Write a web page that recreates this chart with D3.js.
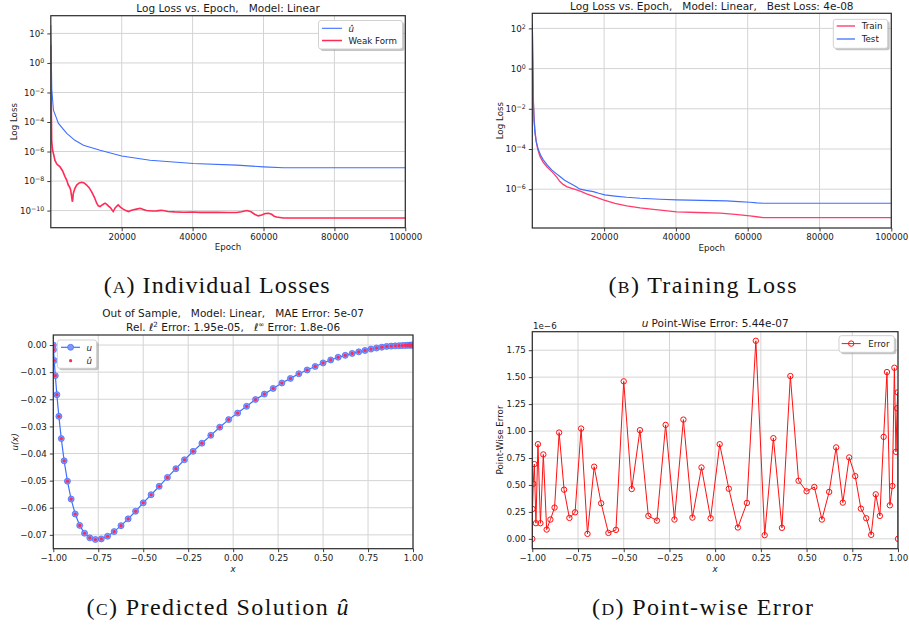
<!DOCTYPE html>
<html>
<head>
<meta charset="utf-8">
<script src="https://cdn.jsdelivr.net/npm/d3@7"></script>
<style>
body{margin:0;background:#fff;}
svg text{white-space:pre;}
</style>
</head>
<body>
<svg id="fig" width="909" height="626"></svg>
<script>
// ---- (A) individual losses, log10 values
const epochUHat = [0, 280, 750, 2160, 4500, 6800, 9200, 13900, 20000, 28000, 40200, 52400, 60000, 65600, 100000];
const logUHat   = [2.57, -1.8, -3.2, -4.1, -4.77, -5.24, -5.58, -5.91, -6.3, -6.59, -6.81, -6.92, -7.04, -7.1, -7.1];

const epochWeak = [0, 120, 250, 500, 800, 1180, 1700, 2600, 3300, 4000, 4500, 4940, 5300, 5600, 5850, 6070, 6200, 6350, 6800, 7300,
  8000, 8700, 9400, 10100, 10800, 11500, 12300, 12950, 13400, 13900, 14500, 15300, 15800, 16200, 16800, 17600, 18200, 19000, 19700, 20450,
  21200, 21900, 22600, 23300, 24200, 25200, 26100, 27000, 28500, 29900, 31000, 31700, 33000, 35000, 37400, 40000, 42000, 44900, 47000, 50000,
  52400, 53800, 55300, 56500, 57500, 58500, 59500, 60500, 61400, 62300, 63000, 63700, 64600, 65600, 100000];
const logWeak = [1.2, -2.5, -5.3, -5.9, -6.2, -6.6, -6.85, -7.04, -7.3, -7.7, -7.95, -8.27, -8.4, -8.6, -9.0, -9.4, -9.25, -8.83, -8.5, -8.27,
  -8.13, -8.08, -8.13, -8.27, -8.45, -8.72, -9.1, -9.5, -9.68, -9.73, -9.62, -9.5, -9.58, -9.68, -9.8, -10.07, -9.8, -9.62, -9.78, -9.9,
  -10.0, -10.07, -10.0, -9.95, -9.9, -9.84, -9.92, -10.0, -10.03, -10.02, -9.99, -10.0, -10.06, -10.09, -10.11, -10.1, -10.12, -10.11, -10.12, -10.13,
  -10.13, -10.08, -10.0, -10.08, -10.25, -10.36, -10.3, -10.2, -10.18, -10.25, -10.38, -10.44, -10.47, -10.5, -10.5];

// ---- (B) training loss
const epochTest = [0, 150, 280, 500, 740, 1100, 1670, 2300, 3060, 4200, 5400, 6500, 7700, 9000, 10500, 12000, 13300, 15000, 17000, 18500,
  20200, 23000, 26300, 30000, 35600, 40200, 47000, 54100, 57500, 60600, 62500, 64300, 100000];
const logTest = [2.25, 0.5, -1.55, -2.6, -3.2, -3.65, -4.03, -4.3, -4.54, -4.8, -5.04, -5.2, -5.37, -5.55, -5.7, -5.85, -6.0, -6.06, -6.12, -6.2,
  -6.28, -6.34, -6.4, -6.45, -6.5, -6.53, -6.56, -6.58, -6.62, -6.65, -6.68, -6.7, -6.7];
const epochTrain = [0, 150, 300, 460, 700, 1020, 1500, 2140, 3000, 4000, 5000, 5850, 6800, 7700, 8600, 9560, 11000, 12350, 13700, 15100,
  17500, 19800, 23000, 26300, 30000, 33700, 37000, 40200, 46000, 52300, 56500, 60600, 62500, 64300, 100000];
const logTrain = [2.2, 0.0, -1.6, -2.38, -3.0, -3.54, -4.0, -4.37, -4.65, -4.87, -5.05, -5.2, -5.4, -5.62, -5.76, -5.87, -5.96, -6.03, -6.12, -6.23,
  -6.38, -6.53, -6.7, -6.83, -6.93, -7.0, -7.07, -7.13, -7.16, -7.19, -7.25, -7.33, -7.37, -7.41, -7.41];

// ---- (C)/(D) sample nodes, solution and point-wise error (x1e-6)
const xNodes = [-1.0, -0.998757, -0.995031, -0.988831, -0.980172, -0.969077, -0.955573, -0.939693, -0.921476, -0.900969,
  -0.878222, -0.853291, -0.826239, -0.797133, -0.766044, -0.733052, -0.698237, -0.661686, -0.62349, -0.583744,
  -0.542546, -0.5, -0.456211, -0.411287, -0.365341, -0.318487, -0.27084, -0.222521, -0.173648, -0.124344,
  -0.07473, -0.024931, 0.024931, 0.07473, 0.124344, 0.173648, 0.222521, 0.27084, 0.318487, 0.365341,
  0.411287, 0.456211, 0.5, 0.542546, 0.583744, 0.62349, 0.661686, 0.698237, 0.733052, 0.766044,
  0.797133, 0.826239, 0.853291, 0.878222, 0.900969, 0.921476, 0.939693, 0.955573, 0.969077, 0.980172,
  0.988831, 0.995031, 0.998757, 1.0];
const uVals = [0, -0.0017, -0.0057, -0.0113, -0.0183, -0.0263, -0.0345, -0.0427, -0.0502, -0.0568,
  -0.0623, -0.0665, -0.0694, -0.0711, -0.0717, -0.0715, -0.0705, -0.0688, -0.0666, -0.0641,
  -0.0613, -0.0582, -0.0552, -0.0521, -0.0488, -0.0456, -0.0423, -0.0392, -0.0362, -0.0333,
  -0.0303, -0.0275, -0.0251, -0.0226, -0.0201, -0.0181, -0.016, -0.014, -0.0123, -0.0106,
  -0.0092, -0.0079, -0.0066, -0.0055, -0.0045, -0.0038, -0.0031, -0.0025, -0.002, -0.0015,
  -0.0011, -0.0008, -0.0005, -0.0004, -0.0003, -0.00025, -0.0002, -0.00015, -0.0001, -0.00007,
  -0.00004, -0.00002, -0.00001, 0];
const uHatVals = uVals; // prediction sits on top of the exact values at this scale
const errVals = [0, 0.277, 0.511, 0.693, 0.145, 0.878, 0.145, 0.783, 0.086, 0.179,
  0.29, 0.986, 0.456, 0.194, 0.246, 1.023, 0.046, 0.669, 0.33, 0.055,
  0.083, 1.461, 0.462, 1.008, 0.213, 0.169, 1.057, 0.179, 1.106, 0.197,
  0.662, 0.191, 0.878, 0.465, 0.105, 0.333, 1.837, 0.034, 0.934, 0.102,
  1.51, 0.539, 0.441, 0.481, 0.179, 0.435, 0.848, 0.336, 0.755, 0.582,
  0.28, 0.191, 0.037, 0.413, 0.213, 0.946, 1.547, 0.311, 0.49, 1.587,
  0.807, 1.211, 1.359, 0];

const epochTicks = [20000, 40000, 60000, 80000, 100000];
const logTicksA = [1e2, 1, 1e-2, 1e-4, 1e-6, 1e-8, 1e-10];
const logTicksB = [1e2, 1, 1e-2, 1e-4, 1e-6];
const xTicksCD = [-1, -0.75, -0.5, -0.25, 0, 0.25, 0.5, 0.75, 1];
const uTicks = [0, -0.01, -0.02, -0.03, -0.04, -0.05, -0.06, -0.07];
const errTicks = [0, 0.25, 0.5, 0.75, 1, 1.25, 1.5, 1.75];

const svg = d3.select("#fig");
const FONT = "DejaVu Sans, sans-serif";
const FS = 8.7, TFS = 10.5;
const gridColor = "#d4d4d4", spineColor = "#2a2a2a";
const blue = "#3f6fff", red = "#ff2a55";

// boxes of the four axes
const boxA = {l:50.8, r:405.3, t:15.7, b:227.7};
const boxB = {l:532.3, r:891.3, t:13.3, b:228};
const boxC = {l:53.3, r:413, t:335, b:548.7};
const boxD = {l:532.3, r:898, t:331.7, b:548.7};

const xA = d3.scaleLinear().domain([0, 100000]).range([boxA.l, boxA.r]);
const yA = d3.scaleLog().domain([Math.pow(10,-11.16), Math.pow(10,3.2)]).range([boxA.b, boxA.t]);
const xB = d3.scaleLinear().domain([0, 100000]).range([boxB.l, boxB.r]);
const yB = d3.scaleLog().domain([Math.pow(10,-7.93), Math.pow(10,2.75)]).range([boxB.b, boxB.t]);
const xC = d3.scaleLinear().domain([-1, 1]).range([boxC.l, boxC.r]);
const yC = d3.scaleLinear().domain([-0.0751, 0.0037]).range([boxC.b, boxC.t]);
const xD = d3.scaleLinear().domain([-1, 1]).range([boxD.l, boxD.r]);
const yD = d3.scaleLinear().domain([-0.0915, 1.9215]).range([boxD.b, boxD.t]);

const defs = svg.append("defs");

function gridAndClip(id, box, x, y, xt, yt){
    defs.append("clipPath").attr("id", id).append("rect")
        .attr("x", box.l).attr("y", box.t).attr("width", box.r-box.l).attr("height", box.b-box.t);
    const g = svg.append("g").attr("stroke", gridColor).attr("stroke-width", 1);
    g.selectAll(".gx").data(xt).join("line").attr("class","gx")
        .attr("x1", d=>x(d)).attr("x2", d=>x(d)).attr("y1", box.t).attr("y2", box.b);
    g.selectAll(".gy").data(yt).join("line").attr("class","gy")
        .attr("x1", box.l).attr("x2", box.r).attr("y1", d=>y(d)).attr("y2", d=>y(d));
    return svg.append("g").attr("clip-path", `url(#${id})`);
}

function supLabels(g){
    g.selectAll(".tick text").each(function(d){
        const e = Math.round(Math.log10(d));
        const t = d3.select(this).text("10");
        t.append("tspan").attr("dy", "-0.5em").attr("font-size", 6.3).text(e < 0 ? "\u2212" + (-e) : String(e));
    });
}

function axes(box, x, y, xt, yt, xf, yf, logY){
    const gx = svg.append("g").attr("transform", `translate(0,${box.b})`)
        .call(d3.axisBottom(x).tickValues(xt).tickSize(3.5).tickPadding(2.5).tickFormat(xf));
    const gy = svg.append("g").attr("transform", `translate(${box.l},0)`)
        .call(d3.axisLeft(y).tickValues(yt).tickSize(3.5).tickPadding(3).tickFormat(logY ? "" : yf));
    [gx, gy].forEach(g => {
        g.attr("font-size", FS).attr("font-family", FONT);
        g.select(".domain").remove();
        g.selectAll(".tick line").attr("stroke", spineColor).attr("stroke-width", 0.9);
        g.selectAll(".tick text").attr("fill", "#1a1a1a");
    });
    if (logY) supLabels(gy);
    svg.append("rect").attr("x", box.l).attr("y", box.t)
        .attr("width", box.r-box.l).attr("height", box.b-box.t)
        .attr("fill", "none").attr("stroke", spineColor).attr("stroke-width", 1.2);
}

function label(x, y, txt, opt){
    opt = opt || {};
    const t = svg.append("text").attr("x", x).attr("y", y)
        .attr("text-anchor", opt.anchor || "middle")
        .attr("font-family", FONT).attr("font-size", opt.size || FS).attr("fill", "#1a1a1a");
    if (opt.rotate) t.attr("transform", `rotate(-90,${x},${y})`);
    if (opt.italic) t.attr("font-style", "italic");
    t.text(txt);
    return t;
}

function legendBox(x0, y0, w, h){
    svg.append("rect").attr("x", x0+2).attr("y", y0+2).attr("width", w).attr("height", h)
        .attr("rx", 2.5).attr("fill", "#8c8c8c").attr("opacity", 0.5);
    svg.append("rect").attr("x", x0).attr("y", y0).attr("width", w).attr("height", h)
        .attr("rx", 2.5).attr("fill", "#fff").attr("stroke", "#cccccc").attr("stroke-width", 0.9);
}

const lineOf = (x, y) => d3.line().x(d => x(d[0])).y(d => y(d[1]));
const pow10 = arr => arr.map(v => Math.pow(10, v));

// ================= (A)
{
    const plot = gridAndClip("clipA", boxA, xA, yA, epochTicks, logTicksA);
    plot.append("path").datum(d3.zip(epochUHat, pow10(logUHat)))
        .attr("d", lineOf(xA, yA)).attr("fill", "none").attr("stroke", blue).attr("stroke-width", 1.1);
    plot.append("path").datum(d3.zip(epochWeak, pow10(logWeak)))
        .attr("d", lineOf(xA, yA)).attr("fill", "none").attr("stroke", red).attr("stroke-width", 1.6);
    axes(boxA, xA, yA, epochTicks, logTicksA, d3.format("d"), null, true);
    label((boxA.l+boxA.r)/2, 12.3, "Log Loss vs. Epoch,   Model: Linear", {size: TFS});
    label((boxA.l+boxA.r)/2, 250, "Epoch");
    label(17.5, (boxA.t+boxA.b)/2, "Log Loss", {rotate: true});
    legendBox(318.5, 20.5, 84, 28.5);
    svg.append("line").attr("x1", 322).attr("x2", 342).attr("y1", 28.3).attr("y2", 28.3).attr("stroke", blue).attr("stroke-width", 1.1);
    svg.append("line").attr("x1", 322).attr("x2", 342).attr("y1", 40.5).attr("y2", 40.5).attr("stroke", red).attr("stroke-width", 1.5);
    label(348.5, 31.5, "\u00fb", {anchor: "start", italic: true});
    label(348.5, 43.6, "Weak Form", {anchor: "start"});
}

// ================= (B)
{
    const plot = gridAndClip("clipB", boxB, xB, yB, epochTicks, logTicksB);
    plot.append("path").datum(d3.zip(epochTrain, pow10(logTrain)))
        .attr("d", lineOf(xB, yB)).attr("fill", "none").attr("stroke", "#ff3d6b").attr("stroke-width", 1.3);
    plot.append("path").datum(d3.zip(epochTest, pow10(logTest)))
        .attr("d", lineOf(xB, yB)).attr("fill", "none").attr("stroke", blue).attr("stroke-width", 1.2);
    axes(boxB, xB, yB, epochTicks, logTicksB, d3.format("d"), null, true);
    label((boxB.l+boxB.r)/2, 9.8, "Log Loss vs. Epoch,   Model: Linear,   Best Loss: 4e-08", {size: TFS});
    label((boxB.l+boxB.r)/2, 250.5, "Epoch");
    label(503, (boxB.t+boxB.b)/2, "Log Loss", {rotate: true});
    legendBox(833.3, 19.3, 54.4, 29);
    svg.append("line").attr("x1", 836.7).attr("x2", 855).attr("y1", 26).attr("y2", 26).attr("stroke", "#ff4d78").attr("stroke-width", 1.5);
    svg.append("line").attr("x1", 836.7).attr("x2", 855).attr("y1", 39).attr("y2", 39).attr("stroke", "#86a2ff").attr("stroke-width", 2);
    label(861.7, 29.2, "Train", {anchor: "start"});
    label(861.7, 42.2, "Test", {anchor: "start"});
}

// ================= (C)
{
    const plot = gridAndClip("clipC", boxC, xC, yC, xTicksCD, uTicks);
    const pts = d3.zip(xNodes, uVals);
    plot.append("path").datum(pts).attr("d", lineOf(xC, yC))
        .attr("fill", "none").attr("stroke", blue).attr("stroke-width", 1.2);
    plot.selectAll(".mk").data(pts).join("circle").attr("class", "mk")
        .attr("cx", d => xC(d[0])).attr("cy", d => yC(d[1])).attr("r", 3)
        .attr("fill", "#7d98ff").attr("stroke", "#4a74ff").attr("stroke-width", 0.8);
    plot.selectAll(".dt").data(d3.zip(xNodes, uHatVals)).join("circle").attr("class", "dt")
        .attr("cx", d => xC(d[0])).attr("cy", d => yC(d[1])).attr("r", 1.6).attr("fill", red);
    axes(boxC, xC, yC, xTicksCD, uTicks, d3.format(".2f"), d3.format(".2f"), false);
    const cx = (boxC.l+boxC.r)/2;
    label(cx, 317.3, "Out of Sample,   Model: Linear,   MAE Error: 5e-07", {size: TFS});
    const t2 = label(cx, 330.8, "", {size: TFS});
    t2.append("tspan").text("Rel. ");
    t2.append("tspan").attr("font-style", "italic").text("\u2113");
    t2.append("tspan").attr("dy", -4).attr("font-size", 7.2).text("2");
    t2.append("tspan").attr("dy", 4).text(" Error: 1.95e-05,   ");
    t2.append("tspan").attr("font-style", "italic").text("\u2113");
    t2.append("tspan").attr("dy", -4).attr("font-size", 7.2).text("\u221e");
    t2.append("tspan").attr("dy", 4).text(" Error: 1.8e-06");
    label(cx, 571.5, "x", {italic: true});
    label(18, (boxC.t+boxC.b)/2, "u(x)", {rotate: true, italic: true});
    legendBox(57.3, 340, 39.4, 28.3);
    svg.append("line").attr("x1", 61).attr("x2", 80).attr("y1", 347.3).attr("y2", 347.3).attr("stroke", blue).attr("stroke-width", 1.2);
    svg.append("circle").attr("cx", 70.6).attr("cy", 347.3).attr("r", 3).attr("fill", "#7d98ff").attr("stroke", "#4a74ff").attr("stroke-width", 0.8);
    svg.append("circle").attr("cx", 70.6).attr("cy", 360.7).attr("r", 1.6).attr("fill", red);
    label(86.5, 350.5, "u", {anchor: "start", italic: true});
    label(86.5, 364, "\u00fb", {anchor: "start", italic: true});
}

// ================= (D)
{
    const plot = gridAndClip("clipD", boxD, xD, yD, xTicksCD, errTicks);
    const pts = d3.zip(xNodes, errVals);
    plot.append("path").datum(pts).attr("d", lineOf(xD, yD))
        .attr("fill", "none").attr("stroke", "#ff1010").attr("stroke-width", 1);
    plot.selectAll(".mk").data(pts).join("circle").attr("class", "mk")
        .attr("cx", d => xD(d[0])).attr("cy", d => yD(d[1])).attr("r", 2.7)
        .attr("fill", "none").attr("stroke", "#ff1010").attr("stroke-width", 1);
    axes(boxD, xD, yD, xTicksCD, errTicks, d3.format(".2f"), d3.format(".2f"), false);
    const cx = (boxD.l+boxD.r)/2;
    const tt = label(cx, 326.5, "", {size: TFS});
    tt.append("tspan").attr("font-style", "italic").text("u");
    tt.append("tspan").text(" Point-Wise Error: 5.44e-07");
    label(533, 328.5, "1e\u22126", {anchor: "start"});
    label(cx, 571.5, "x", {italic: true});
    label(503, 440, "Point-Wise Error", {rotate: true});
    legendBox(839, 335.7, 55.3, 16.6);
    svg.append("line").attr("x1", 841.7).attr("x2", 860.7).attr("y1", 343.6).attr("y2", 343.6).attr("stroke", "#ff1010").attr("stroke-width", 1);
    svg.append("circle").attr("cx", 851.2).attr("cy", 343.6).attr("r", 2.7).attr("fill", "none").attr("stroke", "#ff1010").attr("stroke-width", 1);
    label(868.3, 346.8, "Error", {anchor: "start"});
}

// ================= captions
function caption(cx, y, w, letter, rest, italicTail){
    const t = svg.append("text").attr("x", cx).attr("y", y).attr("text-anchor", "middle")
        .attr("font-family", "'Liberation Serif', 'DejaVu Serif', serif").attr("font-size", 24).attr("fill", "#111")
        .attr("textLength", w).attr("lengthAdjust", "spacing");
    t.append("tspan").text("(");
    t.append("tspan").attr("font-size", 17.5).text(letter);
    t.append("tspan").text(") " + rest);
    if (italicTail) t.append("tspan").attr("font-style", "italic").text(italicTail);
}
caption(216.7, 293, 226, "A", "Individual Losses");
caption(702.5, 293, 188, "B", "Training Loss");
caption(217.5, 615, 262, "C", "Predicted Solution ", "\u00fb");
caption(702.5, 615, 221, "D", "Point-wise Error");
</script>
</body>
</html>
